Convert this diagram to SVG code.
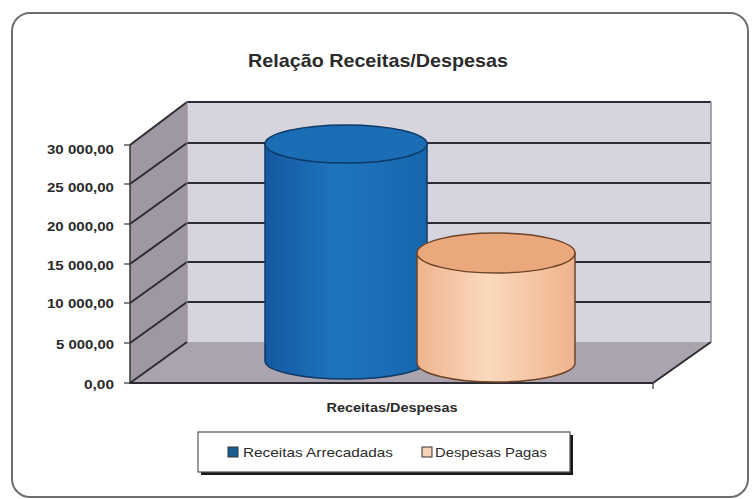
<svg xmlns="http://www.w3.org/2000/svg" width="753" height="499" viewBox="0 0 753 499">
  <style>
    .grid { stroke: #2e2c33; stroke-width: 2; fill: none; }
    .tick { stroke: #333; stroke-width: 1.2; }
    .ylab { font-family: "Liberation Sans", Arial, sans-serif; font-size: 13px; font-weight: bold; fill: #2a2a2a; text-anchor: end; }
    .lg { font-family: "Liberation Sans", Arial, sans-serif; font-size: 13px; fill: #2a2a2a; }
  </style>
  <defs>
    <linearGradient id="blueBody" x1="0" x2="1" y1="0" y2="0">
      <stop offset="0" stop-color="#1459a0"/>
      <stop offset="0.45" stop-color="#1f74be"/>
      <stop offset="1" stop-color="#1766ad"/>
    </linearGradient>
    <linearGradient id="orBody" x1="0" x2="1" y1="0" y2="0">
      <stop offset="0" stop-color="#eeb48e"/>
      <stop offset="0.45" stop-color="#fbd9bd"/>
      <stop offset="1" stop-color="#efb38c"/>
    </linearGradient>
  </defs>

  <rect id="frame" x="12" y="13" width="736" height="484" rx="18" ry="18" fill="#ffffff" stroke="#6e6e6e" stroke-width="2"/>

  <text id="title" x="378" y="67" text-anchor="middle" font-family="'Liberation Sans', Arial, sans-serif" font-size="19" font-weight="bold" fill="#2b2b2b" textLength="260" lengthAdjust="spacingAndGlyphs">Relação Receitas/Despesas</text>

  <g id="plot">
    <rect x="187" y="102" width="524" height="240" fill="#d6d5dd"/>
    <polygon points="130,145 187,102 187,342 130,383" fill="#9f98a3"/>
    <polygon points="130,383 653,383 711,342 187,342" fill="#aba3ad"/>
    <g class="grid">
      <line x1="187" y1="102" x2="711" y2="102"/>
      <line x1="187" y1="143" x2="711" y2="143"/>
      <line x1="187" y1="183" x2="711" y2="183"/>
      <line x1="187" y1="223" x2="711" y2="223"/>
      <line x1="187" y1="262" x2="711" y2="262"/>
      <line x1="187" y1="302" x2="711" y2="302"/>
      <line x1="130" y1="145" x2="187" y2="102"/>
      <line x1="130" y1="184" x2="187" y2="143"/>
      <line x1="130" y1="224" x2="187" y2="183"/>
      <line x1="130" y1="264" x2="187" y2="223"/>
      <line x1="130" y1="303" x2="187" y2="262"/>
      <line x1="130" y1="343" x2="187" y2="302"/>
      <line x1="130" y1="383" x2="187" y2="342"/>
      <line x1="130" y1="383" x2="653" y2="383"/>
      <line x1="653" y1="383" x2="711" y2="342"/>
    </g>
    <line x1="711" y1="102" x2="711" y2="342" stroke="#8a8890" stroke-width="1.5"/>
    <line x1="187" y1="102" x2="187" y2="342" stroke="#8e8792" stroke-width="1"/>
    <line x1="130" y1="145" x2="130" y2="384" stroke="#333" stroke-width="1.5"/>
    <line x1="653" y1="383" x2="653" y2="389" class="tick"/>
  </g>

  <g id="y-axis">
    <g class="tick">
      <line x1="124" y1="145" x2="130" y2="145"/>
      <line x1="124" y1="184" x2="130" y2="184"/>
      <line x1="124" y1="224" x2="130" y2="224"/>
      <line x1="124" y1="264" x2="130" y2="264"/>
      <line x1="124" y1="303" x2="130" y2="303"/>
      <line x1="124" y1="343" x2="130" y2="343"/>
      <line x1="124" y1="383" x2="130" y2="383"/>
    </g>
    <text class="ylab" x="114" y="154" textLength="67" lengthAdjust="spacingAndGlyphs">30 000,00</text>
    <text class="ylab" x="114" y="192" textLength="67" lengthAdjust="spacingAndGlyphs">25 000,00</text>
    <text class="ylab" x="114" y="231" textLength="67" lengthAdjust="spacingAndGlyphs">20 000,00</text>
    <text class="ylab" x="114" y="270" textLength="67" lengthAdjust="spacingAndGlyphs">15 000,00</text>
    <text class="ylab" x="114" y="308" textLength="67" lengthAdjust="spacingAndGlyphs">10 000,00</text>
    <text class="ylab" x="114" y="349" textLength="58" lengthAdjust="spacingAndGlyphs">5 000,00</text>
    <text class="ylab" x="114" y="389" textLength="30" lengthAdjust="spacingAndGlyphs">0,00</text>
  </g>

  <g id="bar-receitas">
    <path d="M265,144 L265,361 A81,18 0 0 0 427,361 L427,144 Z" fill="url(#blueBody)" stroke="#0d3a66" stroke-width="1.5"/>
    <ellipse cx="346" cy="144" rx="81" ry="19" fill="#1b6db5" stroke="#0d3a66" stroke-width="1.5"/>
  </g>

  <g id="bar-despesas">
    <path d="M417,253 L417,363 A79,19 0 0 0 575,363 L575,253 Z" fill="url(#orBody)" stroke="#6e4428" stroke-width="1.5"/>
    <ellipse cx="496" cy="253" rx="79" ry="20" fill="#eba87c" stroke="#6e4428" stroke-width="1.5"/>
  </g>

  <text id="x-axis-title" x="392" y="412" text-anchor="middle" font-family="'Liberation Sans', Arial, sans-serif" font-size="12" font-weight="bold" fill="#2a2a2a" textLength="131" lengthAdjust="spacingAndGlyphs">Receitas/Despesas</text>

  <g id="legend">
    <rect x="201" y="435" width="372" height="40" fill="#1a1a1a"/>
    <rect x="198" y="432" width="372" height="40" fill="#ffffff" stroke="#555" stroke-width="1.2"/>
    <rect x="228" y="447" width="10" height="10" fill="#1a5f94" stroke="#333" stroke-width="1"/>
    <text class="lg" x="243" y="457" textLength="150" lengthAdjust="spacingAndGlyphs">Receitas Arrecadadas</text>
    <rect x="422" y="447" width="10" height="10" fill="#f6d2b6" stroke="#333" stroke-width="1"/>
    <text class="lg" x="435" y="457" textLength="112" lengthAdjust="spacingAndGlyphs">Despesas Pagas</text>
  </g>
</svg>
